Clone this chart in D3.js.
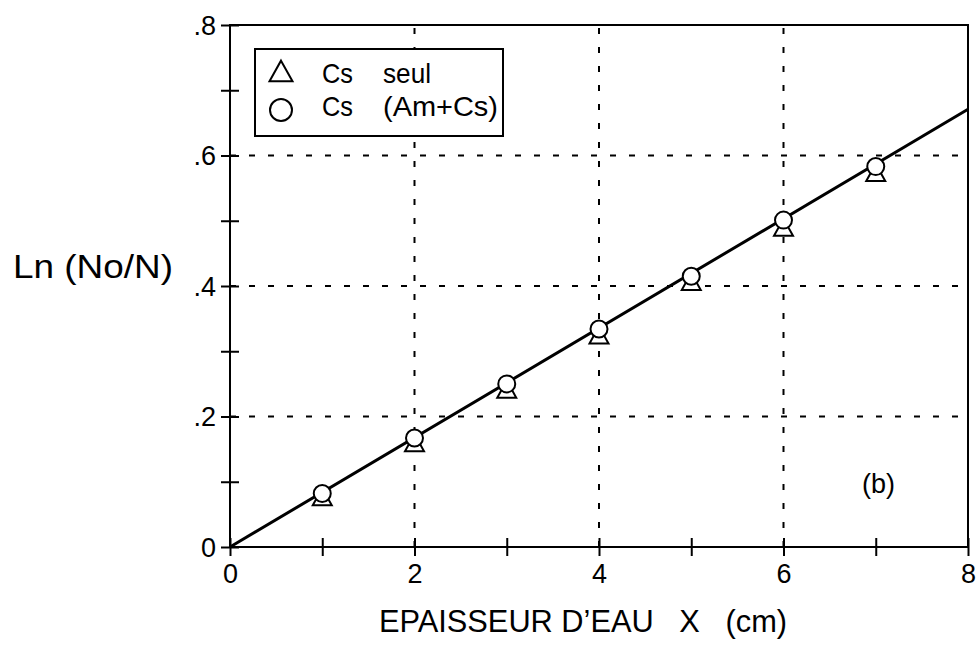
<!DOCTYPE html>
<html>
<head>
<meta charset="utf-8">
<script src="https://cdn.jsdelivr.net/npm/d3@7/dist/d3.min.js"></script>
<style>
  html, body { margin: 0; padding: 0; background: #fff; }
  svg text { font-family: "Liberation Sans", Arial, sans-serif; fill: #000; white-space: pre; }
</style>
</head>
<body>
<svg id="chart" width="978" height="663"></svg>
<script>
// Water thickness (cm) and ln(No/N) for Cs alone and Cs in the Am+Cs mix
const thickness = [1, 2, 3, 4, 5, 6, 7];
const csAlone   = [0.077, 0.160, 0.242, 0.325, 0.407, 0.490, 0.574];
const csMix     = [0.082, 0.167, 0.250, 0.334, 0.415, 0.501, 0.583];
// Least-squares line through the origin
const fitX = [0, 8];
const fitY = [0, 0.671];

const xTicks = [0, 1, 2, 3, 4, 5, 6, 7, 8];
const xLabels = ["0", "", "2", "", "4", "", "6", "", "8"];
const yTicks = [0, 0.1, 0.2, 0.3, 0.4, 0.5, 0.6, 0.7, 0.8];
const yLabels = ["0", "", ".2", "", ".4", "", ".6", "", ".8"];
const xGrid = [2, 4, 6];
const yGrid = [0.2, 0.4, 0.6];
const legendLabels = [["Cs", "seul"], ["Cs", "(Am+Cs)"]];

const svg = d3.select("#chart");
const x = d3.scaleLinear().domain([0, 8]).range([230, 968]);
const y = d3.scaleLinear().domain([0, 0.8]).range([547, 25]);

// dashed grid
svg.append("g").selectAll("line").data(xGrid).join("line")
  .attr("x1", d => x(d)).attr("x2", d => x(d))
  .attr("y1", y(0)).attr("y2", y(0.8))
  .attr("stroke", "#000").attr("stroke-width", 2).attr("stroke-dasharray", "6 13");
svg.append("g").selectAll("line").data(yGrid).join("line")
  .attr("x1", x(0)).attr("x2", x(8))
  .attr("y1", d => y(d)).attr("y2", d => y(d))
  .attr("stroke", "#000").attr("stroke-width", 2).attr("stroke-dasharray", "6 13");

// frame
svg.append("rect")
  .attr("x", x(0)).attr("y", y(0.8))
  .attr("width", x(8) - x(0)).attr("height", y(0) - y(0.8))
  .attr("fill", "none").attr("stroke", "#000").attr("stroke-width", 2);

// axes with ticks crossing the axis line
const xAxis = svg.append("g").attr("transform", `translate(0,${y(0)})`)
  .call(d3.axisBottom(x).tickValues(xTicks).tickSize(0).tickFormat((d, i) => xLabels[i]));
xAxis.select(".domain").remove();
xAxis.selectAll(".tick line").attr("y1", -9).attr("y2", 9).attr("stroke-width", 2);
xAxis.selectAll(".tick text").attr("y", 36).attr("dy", 0)
  .style("font-size", "27px").style("font-family", "Liberation Sans, Arial, sans-serif");

const yAxis = svg.append("g").attr("transform", `translate(${x(0)},0)`)
  .call(d3.axisLeft(y).tickValues(yTicks).tickSize(0).tickFormat((d, i) => yLabels[i]));
yAxis.select(".domain").remove();
yAxis.selectAll(".tick line").attr("x1", -9).attr("x2", 9).attr("stroke-width", 2);
yAxis.selectAll(".tick text").attr("x", -14).attr("dy", 9)
  .style("font-size", "27px").style("font-family", "Liberation Sans, Arial, sans-serif");

// fitted line
svg.append("path")
  .datum(fitX.map((d, i) => [d, fitY[i]]))
  .attr("d", d3.line().x(d => x(d[0])).y(d => y(d[1])))
  .attr("fill", "none").attr("stroke", "#000").attr("stroke-width", 3);

const tri = d3.symbol().type(d3.symbolTriangle);
const triPath = (w) => {
  const h = w * 0.9;
  return `M0,${-h / 2}L${w / 2},${h / 2}L${-w / 2},${h / 2}Z`;
};

// Cs seul: triangles
svg.append("g").selectAll("path").data(thickness).join("path")
  .attr("transform", (d, i) => `translate(${x(d)},${y(csAlone[i])})`)
  .attr("d", triPath(19))
  .attr("fill", "#fff").attr("stroke", "#000").attr("stroke-width", 2);

// Cs (Am+Cs): circles
svg.append("g").selectAll("circle").data(thickness).join("circle")
  .attr("cx", d => x(d)).attr("cy", (d, i) => y(csMix[i])).attr("r", 8.5)
  .attr("fill", "#fff").attr("stroke", "#000").attr("stroke-width", 2);

// legend
const leg = svg.append("g");
leg.append("rect").attr("x", 255).attr("y", 49).attr("width", 248).attr("height", 87)
  .attr("fill", "#fff").attr("stroke", "#000").attr("stroke-width", 2);
leg.append("path").attr("transform", "translate(281,71)").attr("d", triPath(23))
  .attr("fill", "#fff").attr("stroke", "#000").attr("stroke-width", 2);
leg.append("circle").attr("cx", 281).attr("cy", 110).attr("r", 11)
  .attr("fill", "#fff").attr("stroke", "#000").attr("stroke-width", 2);
const rowBase = [83, 116];
legendLabels.forEach((row, i) => {
  leg.append("text").attr("x", 322).attr("y", rowBase[i]).style("font-size", "28px")
    .attr("textLength", 31).attr("lengthAdjust", "spacingAndGlyphs").text(row[0]);
  leg.append("text").attr("x", 383).attr("y", rowBase[i]).style("font-size", "28px")
    .attr("textLength", i === 0 ? 48 : 115).attr("lengthAdjust", "spacingAndGlyphs").text(row[1]);
});

// panel tag
svg.append("text").attr("x", 862).attr("y", 493).style("font-size", "27px").text("(b)");

// axis titles
svg.append("text").attr("x", 13).attr("y", 278).style("font-size", "34px")
  .attr("textLength", 160).attr("lengthAdjust", "spacingAndGlyphs").text("Ln (No/N)");
svg.append("text").attr("x", 379).attr("y", 632).style("font-size", "32px")
  .attr("textLength", 408).attr("lengthAdjust", "spacingAndGlyphs").text("EPAISSEUR D’EAU   X   (cm)");
</script>
</body>
</html>
